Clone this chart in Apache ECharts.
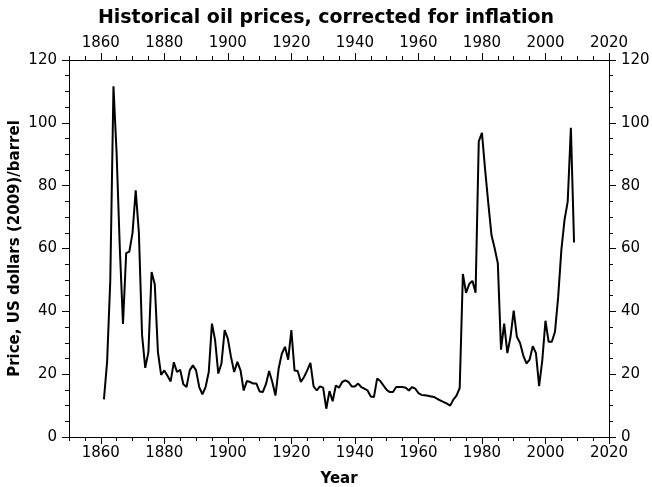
<!DOCTYPE html>
<html>
<head>
<meta charset="utf-8">
<script src="https://cdn.jsdelivr.net/npm/echarts@6/dist/echarts.min.js"></script>
<style>
  html, body { margin: 0; padding: 0; background: #fff; }
  #chart { width: 652px; height: 487px; }
</style>
</head>
<body>
<div id="chart"></div>
<script>
// years of the series
const years = [
  1861, 1862, 1863, 1864, 1865, 1866, 1867, 1868, 1869, 1870,
  1871, 1872, 1873, 1874, 1875, 1876, 1877, 1878, 1879, 1880,
  1881, 1882, 1883, 1884, 1885, 1886, 1887, 1888, 1889, 1890,
  1891, 1892, 1893, 1894, 1895, 1896, 1897, 1898, 1899, 1900,
  1901, 1902, 1903, 1904, 1905, 1906, 1907, 1908, 1909, 1910,
  1911, 1912, 1913, 1914, 1915, 1916, 1917, 1918, 1919, 1920,
  1921, 1922, 1923, 1924, 1925, 1926, 1927, 1928, 1929, 1930,
  1931, 1932, 1933, 1934, 1935, 1936, 1937, 1938, 1939, 1940,
  1941, 1942, 1943, 1944, 1945, 1946, 1947, 1948, 1949, 1950,
  1951, 1952, 1953, 1954, 1955, 1956, 1957, 1958, 1959, 1960,
  1961, 1962, 1963, 1964, 1965, 1966, 1967, 1968, 1969, 1970,
  1971, 1972, 1973, 1974, 1975, 1976, 1977, 1978, 1979, 1980,
  1981, 1982, 1983, 1984, 1985, 1986, 1987, 1988, 1989, 1990,
  1991, 1992, 1993, 1994, 1995, 1996, 1997, 1998, 1999, 2000,
  2001, 2002, 2003, 2004, 2005, 2006, 2007, 2008, 2009
]

// price, US dollars (2009) per barrel
const prices = [
  12, 24, 50, 111.6, 90, 60, 36, 58.5, 59, 65,
  78.5, 65, 32.5, 22, 27, 52.5, 48.6, 27, 19.8, 21.2,
  19.5, 17.7, 23.8, 20.7, 21.4, 16.8, 15.9, 21.2, 22.8, 21.2,
  15.9, 13.6, 15.9, 20.7, 36.1, 30.8, 20.2, 23.4, 34, 31.3,
  25.5, 20.7, 23.9, 21.2, 14.8, 17.8, 17.5, 17, 17, 14.5,
  14.3, 16.8, 21, 17.5, 13.2, 21.8, 26.5, 28.7, 24.6, 34,
  21.2, 21, 17.5, 19.1, 21.2, 23.6, 16.1, 14.8, 16.1, 15.7,
  9, 14.6, 11.4, 16.4, 15.7, 17.5, 18, 17.5, 16.1, 16.1,
  17, 15.9, 15.4, 14.8, 12.9, 12.7, 18.6, 17.8, 16.4, 15,
  14.3, 14.3, 15.9, 15.9, 15.9, 15.7, 14.8, 15.9, 15.4, 14,
  13.4, 13.3, 13.1, 12.9, 12.7, 12.1, 11.6, 11.1, 10.6, 10,
  11.9, 13.2, 15.6, 51.9, 45.9, 48.7, 49.7, 45.9, 94.1, 96.8,
  85.1, 74.4, 64.3, 60.1, 55.3, 27.8, 36.1, 26.7, 31.9, 40.2,
  31.9, 29.9, 26, 23.4, 24.6, 28.9, 26.7, 16.2, 24.4, 37,
  30.3, 30.3, 33.5, 44.6, 59.5, 69.1, 74.9, 98.4, 61.9
]

// tick positions on the year axis
const majorYears = [1860, 1880, 1900, 1920, 1940, 1960, 1980, 2000, 2020]
const minorYears = [
  1850, 1855, 1860, 1865, 1870, 1875, 1880, 1885, 1890, 1895,
  1900, 1905, 1910, 1915, 1920, 1925, 1930, 1935, 1940, 1945,
  1950, 1955, 1960, 1965, 1970, 1975, 1980, 1985, 1990, 1995,
  2000, 2005, 2010, 2015, 2020
]

const font = 'DejaVu Sans'
const chart = echarts.init(document.getElementById('chart'))

const yearAxis = (pos, major, showName) => ({
  type: 'value',
  position: pos,
  min: 1850,
  max: 2020,
  name: showName ? 'Year' : '',
  nameLocation: 'middle',
  nameGap: 35,
  nameMoveOverlap: false,
  nameTextStyle: { fontFamily: font, fontSize: 15, fontWeight: 'bold', color: '#000' },
  axisLine: { show: major, lineStyle: { color: '#000', width: 1 } },
  axisTick: {
    show: true,
    length: major ? 7 : 4,
    customValues: major ? majorYears : minorYears,
    lineStyle: { color: '#000', width: 1 }
  },
  axisLabel: {
    show: major,
    customValues: majorYears,
    margin: 9,
    fontFamily: font,
    fontSize: 15,
    color: '#000',
    formatter: v => String(v)
  },
  splitLine: { show: false }
})

const priceAxis = (pos, showName) => ({
  type: 'value',
  position: pos,
  min: 0,
  max: 120,
  interval: 20,
  name: showName ? 'Price, US dollars (2009)/barrel' : '',
  nameLocation: 'middle',
  nameGap: 46,
  nameMoveOverlap: false,
  nameTextStyle: { fontFamily: font, fontSize: 15, fontWeight: 'bold', color: '#000' },
  axisLine: { show: true, lineStyle: { color: '#000', width: 1 } },
  axisTick: { show: true, length: 7, lineStyle: { color: '#000', width: 1 } },
  minorTick: { show: true, splitNumber: 4, length: 4, lineStyle: { color: '#000', width: 1 } },
  axisLabel: { margin: 12, fontFamily: font, fontSize: 15, color: '#000' },
  splitLine: { show: false },
  minorSplitLine: { show: false }
})

chart.setOption({
  animation: false,
  backgroundColor: '#fff',
  title: {
    text: 'Historical oil prices, corrected for inflation',
    left: 'center',
    top: 4,
    textStyle: { fontFamily: font, fontSize: 19, fontWeight: 'bold', color: '#000' }
  },
  grid: { left: 69, right: 43, top: 60, bottom: 50, outerBoundsMode: 'none' },
  xAxis: [
    yearAxis('bottom', true, true),
    yearAxis('bottom', false, false),
    yearAxis('top', true, false),
    yearAxis('top', false, false)
  ],
  yAxis: [
    priceAxis('left', true),
    priceAxis('right', false)
  ],
  series: [
    {
      type: 'line',
      xAxisIndex: 0,
      yAxisIndex: 0,
      data: years.map((y, i) => [y, prices[i]]),
      showSymbol: false,
      lineStyle: { color: '#000', width: 2 },
      itemStyle: { color: '#000' }
    }
  ]
})
</script>
</body>
</html>
